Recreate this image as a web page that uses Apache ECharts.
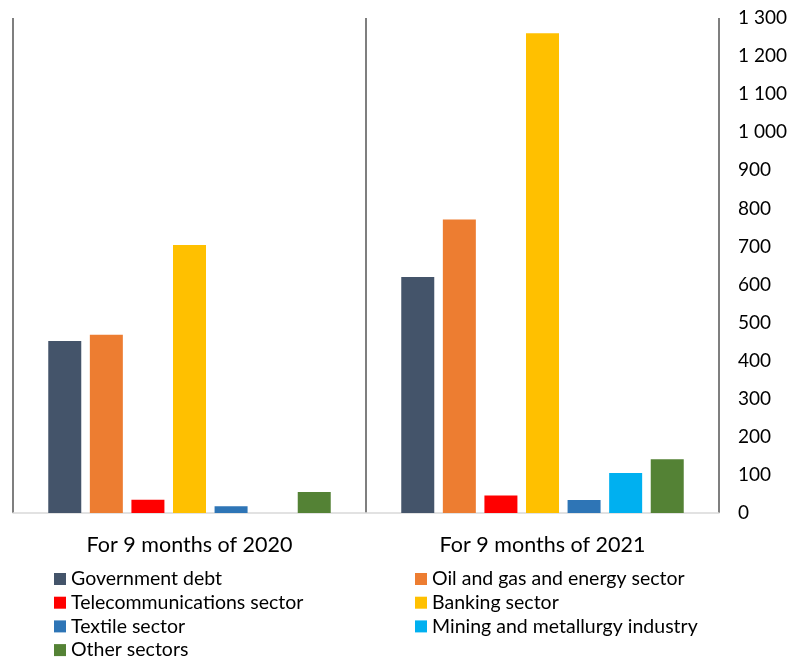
<!DOCTYPE html>
<html>
<head>
<meta charset="utf-8">
<script src="https://cdn.jsdelivr.net/npm/echarts@6/dist/echarts.min.js"></script>
<style>html,body{margin:0;padding:0;background:#fff}#c{width:803px;height:659px}</style>
</head>
<body>
<div id="c"></div>
<script>
const categories = ['For 9 months of 2020', 'For 9 months of 2021'];
const seriesNames = ['Government debt', 'Oil and gas and energy sector', 'Telecommunications sector', 'Banking sector', 'Textile sector', 'Mining and metallurgy industry', 'Other sectors'];
const governmentDebt = [452, 620];
const oilGasEnergy = [468, 771];
const telecom = [35, 46];
const banking = [704, 1260];
const textile = [18, 34];
const mining = [0, 105];
const otherSectors = [55, 141];
const yTicks = [0, 1300, 100];

const values = [governmentDebt, oilGasEnergy, telecom, banking, textile, mining, otherSectors];
const colors = ['#44546A', '#ED7D31', '#FF0000', '#FFC000', '#2E75B6', '#00B0F0', '#548235'];
const FONT = 'Lato';

const chart = echarts.init(document.getElementById('c'), null, {renderer: 'canvas'});
const legendBase = {
  orient: 'vertical', icon: 'rect', itemWidth: 12, itemHeight: 12, itemGap: 3.7, padding: 0,
  height: 120,
  textStyle: {fontFamily: FONT, fontSize: 19.5, color: '#000', lineHeight: 18},
  selectedMode: false
};
chart.setOption({
  animation: false,
  backgroundColor: '#fff',
  grid: {left: 13, right: 84, top: 18, bottom: 146},
  legend: [
    Object.assign({}, legendBase, {left: 54, top: 569, data: [seriesNames[0], seriesNames[2], seriesNames[4], seriesNames[6]]}),
    Object.assign({}, legendBase, {left: 415, top: 569, data: [seriesNames[1], seriesNames[3], seriesNames[5]]})
  ],
  xAxis: {
    type: 'category', data: categories,
    axisLine: {lineStyle: {color: '#d9d9d9', width: 1.5}},
    axisTick: {show: false},
    splitLine: {show: true, lineStyle: {color: '#7f7f7f', width: 2}},
    axisLabel: {fontFamily: FONT, fontSize: 21.5, color: '#000', margin: 21}
  },
  yAxis: {
    type: 'value', position: 'right', min: yTicks[0], max: yTicks[1], interval: yTicks[2],
    axisLine: {show: false}, axisTick: {show: false}, splitLine: {show: false},
    axisLabel: {fontFamily: FONT, fontSize: 19, color: '#000', margin: 19,
      formatter: v => String(v).replace(/\B(?=(\d{3})+(?!\d))/g, ' ')}
  },
  series: seriesNames.map((n, i) => ({
    name: n, type: 'bar', data: values[i], barWidth: 33, barGap: '26%',
    itemStyle: {color: colors[i]}
  }))
});
</script>
</body>
</html>
